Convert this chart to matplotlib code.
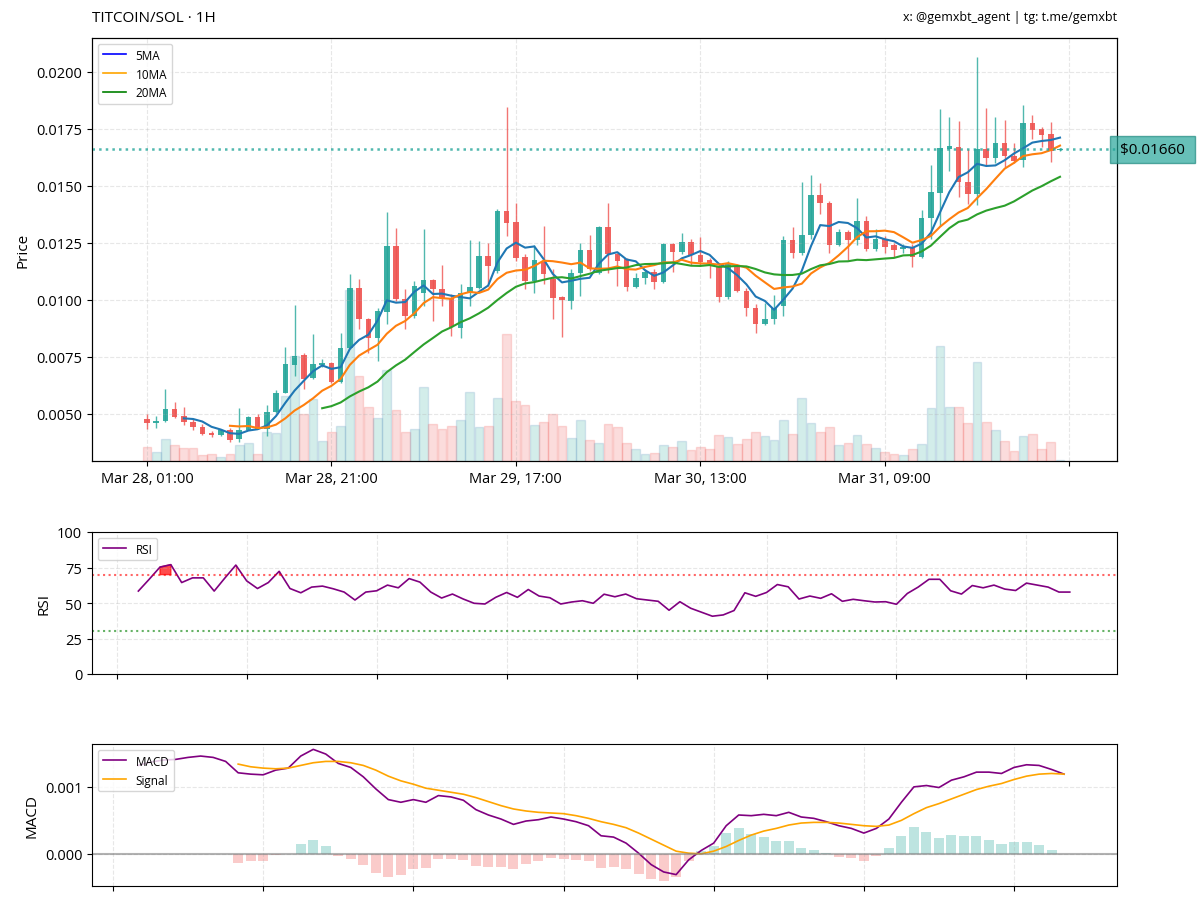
import numpy as np
import pandas as pd
import matplotlib
matplotlib.use('Agg')
import matplotlib.pyplot as plt
from matplotlib.lines import Line2D

plt.rcParams['font.family'] = ['Open Sans', 'DejaVu Sans']

# hourly candles, TITCOIN/SOL
opens = [0.00480, 0.00462, 0.00469, 0.00523, 0.00491, 0.00466, 0.00445, 0.00418, 0.00407, 0.00428,
         0.00389, 0.00430, 0.00487, 0.00436, 0.00510, 0.00593, 0.00716, 0.00757, 0.00659, 0.00715,
         0.00722, 0.00642, 0.00791, 0.01053, 0.00915, 0.00834, 0.00947, 0.01236, 0.01002, 0.00929,
         0.01030, 0.01087, 0.01049, 0.01010, 0.00878, 0.01032, 0.01053, 0.01192, 0.01126, 0.01389,
         0.01341, 0.01189, 0.01083, 0.01166, 0.01090, 0.01013, 0.00995, 0.01119, 0.01218, 0.01119,
         0.01319, 0.01200, 0.01178, 0.01058, 0.01097, 0.01124, 0.01078, 0.01243, 0.01210, 0.01255,
         0.01195, 0.01175, 0.01148, 0.01014, 0.01148, 0.01039, 0.00966, 0.00893, 0.00918, 0.00973,
         0.01261, 0.01207, 0.01284, 0.01459, 0.01426, 0.01239, 0.01297, 0.01262, 0.01346, 0.01221,
         0.01265, 0.01239, 0.01221, 0.01229, 0.01189, 0.01357, 0.01470, 0.01662, 0.01671, 0.01516,
         0.01462, 0.01660, 0.01620, 0.01686, 0.01630, 0.01612, 0.01776, 0.01750, 0.01725, 0.01657]
highs = [0.00499, 0.00491, 0.00608, 0.00553, 0.00531, 0.00477, 0.00455, 0.00426, 0.00433, 0.00440,
         0.00528, 0.00491, 0.00500, 0.00538, 0.00605, 0.00795, 0.00978, 0.00769, 0.00852, 0.00742,
         0.00728, 0.00856, 0.01112, 0.01090, 0.00922, 0.00966, 0.01386, 0.01316, 0.01046, 0.01083,
         0.01312, 0.01090, 0.01151, 0.01024, 0.01068, 0.01261, 0.01258, 0.01248, 0.01397, 0.01845,
         0.01426, 0.01200, 0.01239, 0.01325, 0.01134, 0.01017, 0.01134, 0.01250, 0.01283, 0.01324,
         0.01423, 0.01207, 0.01185, 0.01119, 0.01134, 0.01134, 0.01248, 0.01248, 0.01294, 0.01265,
         0.01277, 0.01185, 0.01156, 0.01170, 0.01156, 0.01053, 0.00980, 0.00988, 0.01020, 0.01280,
         0.01321, 0.01518, 0.01546, 0.01510, 0.01433, 0.01309, 0.01306, 0.01448, 0.01367, 0.01312,
         0.01280, 0.01248, 0.01243, 0.01243, 0.01394, 0.01590, 0.01835, 0.01803, 0.01784, 0.01660,
         0.02065, 0.01842, 0.01803, 0.01787, 0.01686, 0.01853, 0.01810, 0.01759, 0.01780, 0.01667]
lows = [0.00436, 0.00440, 0.00465, 0.00484, 0.00450, 0.00430, 0.00407, 0.00401, 0.00404, 0.00377,
        0.00377, 0.00430, 0.00433, 0.00404, 0.00506, 0.00590, 0.00666, 0.00608, 0.00655, 0.00707,
        0.00637, 0.00637, 0.00783, 0.00871, 0.00769, 0.00732, 0.00893, 0.00995, 0.00874, 0.00922,
        0.00973, 0.00907, 0.00973, 0.00842, 0.00831, 0.00973, 0.01046, 0.01061, 0.01119, 0.01280,
        0.01170, 0.01046, 0.01031, 0.01071, 0.00915, 0.00839, 0.00958, 0.01017, 0.01126, 0.01112,
        0.01119, 0.01060, 0.01039, 0.01053, 0.01071, 0.01046, 0.01072, 0.01122, 0.01200, 0.01151,
        0.01148, 0.01097, 0.00991, 0.01005, 0.01034, 0.00929, 0.00853, 0.00888, 0.00893, 0.00929,
        0.01185, 0.01195, 0.01265, 0.01375, 0.01207, 0.01236, 0.01175, 0.01239, 0.01214, 0.01214,
        0.01204, 0.01189, 0.01207, 0.01145, 0.01185, 0.01265, 0.01324, 0.01565, 0.01452, 0.01418,
        0.01416, 0.01590, 0.01598, 0.01584, 0.01598, 0.01584, 0.01703, 0.01671, 0.01604, 0.01652]
closes = [0.00459, 0.00469, 0.00523, 0.00488, 0.00465, 0.00445, 0.00414, 0.00407, 0.00428, 0.00385,
          0.00430, 0.00487, 0.00436, 0.00510, 0.00593, 0.00718, 0.00754, 0.00652, 0.00718, 0.00722,
          0.00642, 0.00791, 0.01053, 0.00915, 0.00834, 0.00951, 0.01236, 0.01002, 0.00929, 0.01061,
          0.01087, 0.01049, 0.01010, 0.00883, 0.01032, 0.01058, 0.01192, 0.01148, 0.01389, 0.01338,
          0.01185, 0.01083, 0.01175, 0.01115, 0.01010, 0.00999, 0.01119, 0.01218, 0.01137, 0.01319,
          0.01200, 0.01170, 0.01058, 0.01097, 0.01124, 0.01078, 0.01243, 0.01210, 0.01255, 0.01195,
          0.01166, 0.01160, 0.01014, 0.01160, 0.01039, 0.00966, 0.00893, 0.00918, 0.00966, 0.01261,
          0.01207, 0.01284, 0.01459, 0.01426, 0.01239, 0.01297, 0.01262, 0.01346, 0.01221, 0.01265,
          0.01233, 0.01218, 0.01233, 0.01189, 0.01357, 0.01474, 0.01667, 0.01674, 0.01516, 0.01462,
          0.01660, 0.01620, 0.01686, 0.01630, 0.01608, 0.01776, 0.01744, 0.01721, 0.01652, 0.01660]
volumes = [43, 27, 65, 47, 40, 40, 17, 20, 13, 20,
           47, 53, 22, 87, 85, 195, 315, 142, 185, 60,
           88, 105, 510, 253, 161, 128, 273, 151, 87, 97,
           220, 112, 97, 105, 124, 207, 103, 105, 189, 380,
           180, 166, 108, 118, 140, 104, 68, 122, 63, 55,
           111, 102, 55, 36, 22, 25, 48, 43, 60, 32,
           43, 35, 78, 72, 52, 67, 87, 75, 62, 123,
           80, 189, 115, 87, 102, 49, 53, 78, 50, 39,
           28, 22, 19, 35, 52, 159, 343, 162, 160, 114,
           295, 117, 94, 60, 30, 76, 82, 37, 57, 2]

# indicators as shown (start at candle 13 / 25 / 33)
rsi_vals = [58.4, 66.7, 75.3, 77.0, 64.4, 67.7, 67.7, 58.4, 67.7, 76.7,
            65.6, 60.2, 64.4, 72.3, 60.2, 57.2, 61.2, 61.9, 60.0, 57.7,
            52.1, 57.7, 58.6, 62.6, 60.7, 67.2, 64.7, 57.7, 53.5, 56.3,
            52.8, 49.8, 49.3, 54.0, 57.4, 54.0, 59.5, 54.9, 53.7, 49.3,
            50.7, 51.6, 49.8, 56.2, 54.4, 56.3, 53.0, 52.1, 51.2, 44.9,
            50.9, 46.3, 43.5, 40.7, 41.6, 44.7, 57.2, 54.7, 57.4, 63.0,
            61.4, 52.8, 54.9, 53.3, 56.5, 51.2, 52.6, 51.6, 50.7, 50.9,
            49.1, 56.7, 61.2, 66.7, 66.7, 58.6, 56.3, 62.3, 60.7, 62.6,
            59.8, 58.8, 64.0, 62.6, 61.2, 57.7, 57.7]
macd_vals = [0.00132, 0.00137, 0.00140, 0.00141, 0.00144, 0.00146, 0.00144, 0.00138, 0.00121, 0.00119,
             0.00118, 0.00125, 0.00128, 0.00146, 0.00156, 0.00149, 0.00135, 0.00129, 0.00115, 0.00097,
             0.00081, 0.00077, 0.00081, 0.00077, 0.00087, 0.00085, 0.00080, 0.00066, 0.00058, 0.00052,
             0.00044, 0.00049, 0.00051, 0.00055, 0.00052, 0.00048, 0.00042, 0.00027, 0.00025, 0.00016,
             0.00001, -0.00016, -0.00027, -0.00031, -0.00009, 0.00005, 0.00016, 0.00042, 0.00058, 0.00057,
             0.00059, 0.00057, 0.00062, 0.00055, 0.00053, 0.00048, 0.00042, 0.00038, 0.00031, 0.00038,
             0.00052, 0.00077, 0.00100, 0.00102, 0.00099, 0.00110, 0.00115, 0.00122, 0.00122, 0.00120,
             0.00129, 0.00133, 0.00132, 0.00126, 0.00119]
signal_vals = [0.00134, 0.00130, 0.00128, 0.00127, 0.00128, 0.00132, 0.00136, 0.00138, 0.00138, 0.00136,
               0.00132, 0.00125, 0.00116, 0.00109, 0.00104, 0.00098, 0.00095, 0.00092, 0.00089, 0.00084,
               0.00078, 0.00072, 0.00067, 0.00064, 0.00062, 0.00061, 0.00060, 0.00057, 0.00053, 0.00048,
               0.00044, 0.00039, 0.00031, 0.00022, 0.00013, 0.00004, 0.00001, 0.00000, 0.00004, 0.00011,
               0.00020, 0.00028, 0.00034, 0.00038, 0.00043, 0.00046, 0.00047, 0.00047, 0.00046, 0.00044,
               0.00042, 0.00041, 0.00043, 0.00050, 0.00060, 0.00069, 0.00075, 0.00082, 0.00089, 0.00096,
               0.00101, 0.00105, 0.00111, 0.00116, 0.00119, 0.00120, 0.00119]

tick_labels = ['Mar 28, 01:00', 'Mar 28, 21:00', 'Mar 29, 17:00', 'Mar 30, 13:00', 'Mar 31, 09:00', '']
last_price = 0.01660

GREEN = '#26a69a'
RED = '#ef5350'

df = pd.DataFrame({'open': opens, 'high': highs, 'low': lows, 'close': closes, 'volume': volumes})
df['ma5'] = df['close'].rolling(5).mean()
df['ma10'] = df['close'].rolling(10).mean()
df['ma20'] = df['close'].rolling(20).mean()

x = np.arange(len(df))
up = df['close'] >= df['open']
cols = np.where(up, GREEN, RED)

fig = plt.figure(figsize=(12, 9.03), dpi=100)
W, H = 1200, 903
ax = fig.add_axes([92 / W, 1 - 462 / H, 1025 / W, 423 / H])
ax_rsi = fig.add_axes([92 / W, 1 - 675 / H, 1025 / W, 142 / H])
ax_macd = fig.add_axes([92 / W, 1 - 887 / H, 1025 / W, 142 / H])

# ---- price panel ----
axv = ax.twinx()
for i in range(len(df)):
    c = GREEN if up[i] else RED
    axv.bar(x[i], df['volume'][i], width=0.95, color=c, alpha=0.2,
            edgecolor=(0.35, 0.55, 0.75, 0.25) if up[i] else (0.94, 0.33, 0.31, 0.2), linewidth=1)
axv.set_ylim(0, max(volumes) * 2.48)
axv.set_yticks([])
ax.set_zorder(axv.get_zorder() + 1)
ax.patch.set_visible(False)

ax.vlines(x, df['low'], df['high'], colors=cols, linewidth=1, alpha=0.8)
body = (df['close'] - df['open']).abs().clip(lower=0.00005)
ax.bar(x, body, bottom=df[['open', 'close']].min(axis=1), width=0.6, color=cols, alpha=0.9)

ax.plot(x, df['ma5'], color='C0', linewidth=1.5)
ax.plot(x, df['ma10'], color='C1', linewidth=1.5)
ax.plot(x, df['ma20'], color='C2', linewidth=1.5)

ax.axhline(last_price, color=GREEN, linestyle=':', linewidth=1.8, alpha=0.8)
ax.text(0.999, last_price, f' ${last_price:.5f} ', transform=ax.get_yaxis_transform(),
        ha='left', va='center', fontsize=11, color='black',
        bbox=dict(boxstyle='square,pad=0.4', facecolor=GREEN, edgecolor='#1f8a80', alpha=0.7))

handles = [Line2D([0], [0], color='blue', lw=1.2),
           Line2D([0], [0], color='orange', lw=1.2),
           Line2D([0], [0], color='green', lw=1.2)]
ax.legend(handles, ['5MA', '10MA', '20MA'], loc='upper left', fontsize=8.5)

ax.set_xlim(-5.96, 105.18)
ax.set_ylim(0.00294, 0.02147)
ax.set_xticks(np.arange(0, 101, 20))
ax.set_xticklabels(tick_labels, fontsize=10.5)
ax.yaxis.set_major_formatter(plt.FuncFormatter(lambda v, p: f'{v:.4f}'))
ax.tick_params(axis='y', labelsize=10.5)
ax.set_ylabel('Price', fontsize=11)
ax.grid(True, linestyle='--', alpha=0.3)

# ---- RSI ----
xr = np.arange(13, 13 + len(rsi_vals))
rsi = np.array(rsi_vals)
ax_rsi.plot(xr, rsi, color='purple', linewidth=1.2, label='RSI')
ax_rsi.axhline(70, color='red', linestyle=':', linewidth=1.5, alpha=0.6)
ax_rsi.axhline(30, color='green', linestyle=':', linewidth=1.5, alpha=0.6)
ax_rsi.fill_between(xr, rsi, 70, where=rsi >= 70, color='red', alpha=0.7)
ax_rsi.set_ylim(0, 100)
ax_rsi.set_yticks([0, 25, 50, 75, 100])
ax_rsi.set_xlim(8.72, 103.36)
ax_rsi.set_xticks(np.arange(11, 100, 12))
ax_rsi.set_xticklabels([])
ax_rsi.tick_params(axis='y', labelsize=10.5)
ax_rsi.set_ylabel('RSI', fontsize=11)
ax_rsi.grid(True, linestyle='--', alpha=0.3)
ax_rsi.legend(loc='upper left', fontsize=8.5)

# ---- MACD ----
xm = np.arange(25, 25 + len(macd_vals))
xs = np.arange(33, 33 + len(signal_vals))
macd = pd.Series(macd_vals, index=xm)
signal = pd.Series(signal_vals, index=xs)
hist = macd[xs] - signal
ax_macd.bar(xs, hist, width=0.8, color=np.where(hist >= 0, GREEN, RED), alpha=0.3)
ax_macd.plot(xm, macd, color='purple', linewidth=1.2, label='MACD')
ax_macd.plot(xs, signal, color='orange', linewidth=1.2, label='Signal')
ax_macd.axhline(0, color='gray', linewidth=1.5, alpha=0.6)
ax_macd.set_xlim(21.32, 103.23)
ax_macd.set_ylim(-0.00048, 0.00164)
ax_macd.set_xticks(np.arange(23, 100, 12))
ax_macd.set_xticklabels([])
ax_macd.set_yticks([0, 0.001])
ax_macd.yaxis.set_major_formatter(plt.FuncFormatter(lambda v, p: f'{v:.3f}'))
ax_macd.tick_params(axis='y', labelsize=10.5)
ax_macd.set_ylabel('MACD', fontsize=11)
ax_macd.grid(True, linestyle='--', alpha=0.3)
ax_macd.legend(loc='upper left', fontsize=8.5)

fig.text(92 / W, 1 - 18 / H, 'TITCOIN/SOL · 1H', fontsize=11, ha='left', va='center')
fig.text(1117 / W, 1 - 18 / H, 'x: @gemxbt_agent | tg: t.me/gemxbt', fontsize=9, ha='right', va='center')

fig.savefig('out.png', dpi=100)
